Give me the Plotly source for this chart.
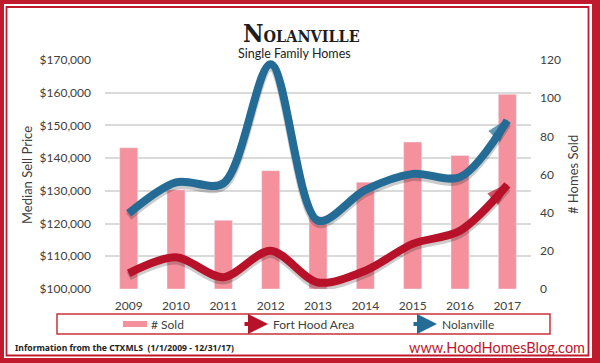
import plotly.graph_objects as go

# ---------------- data ----------------
years = ["2009", "2010", "2011", "2012", "2013", "2014", "2015", "2016", "2017"]
homes_sold = [74, 52, 36, 62, 38, 56, 77, 70, 102]
fort_hood_area = [104800, 109700, 103600, 111700, 102000, 105600, 113800, 117800, 131800]
nolanville = [123100, 132600, 132300, 168700, 120900, 130300, 135200, 134200, 151500]
price_ticks = [100000, 110000, 120000, 130000, 140000, 150000, 160000, 170000]
sold_ticks = [0, 20, 40, 60, 80, 100, 120]

# ---------------- layout geometry ----------------
W, H = 600, 363
L, R, T, B = 105, 69, 60, 74
PW, PH = W - L - R, H - T - B


def px(x):
    return (x - L) / PW


def py(y):
    return (H - B - y) / PH


RED = "#B8122A"
BLUE = "#246B95"
PINK = "#F4919D"
FRAME = "#C01A2C"
TXT = "#404040"
FONT = "Lato"

price_lo, price_hi = price_ticks[0], price_ticks[-1]
shadow_shift = 3 * (price_hi - price_lo) / PH  # 3 px drop shadow


def arrow_sizes(n, s):
    return [0] * (n - 1) + [s]


fig = go.Figure()

# bars (# sold) on right axis
fig.add_trace(go.Bar(
    x=years, y=homes_sold, name="# Sold", marker_color=PINK,
    width=0.38, xaxis="x", yaxis="y", showlegend=False,
))

# shadows
for vals in (fort_hood_area, nolanville):
    fig.add_trace(go.Scatter(
        x=years, y=vals, mode="lines+markers", xaxis="x", yaxis="y2",
        line=dict(color="rgba(0,0,0,0.20)", width=8.5, shape="spline", smoothing=0.9),
        marker=dict(symbol="arrow", size=arrow_sizes(len(vals), 20), angleref="previous",
                    color="rgba(0,0,0,0.20)", line=dict(width=0)),
        showlegend=False, hoverinfo="skip",
    ))

# lines
for vals, col, nm in ((fort_hood_area, RED, "Fort Hood Area"), (nolanville, BLUE, "Nolanville")):
    fig.add_trace(go.Scatter(
        x=years, y=vals, mode="lines+markers", name=nm, xaxis="x2", yaxis="y3",
        line=dict(color=col, width=8, shape="spline", smoothing=0.9),
        marker=dict(symbol="arrow", size=arrow_sizes(len(vals), 20), angleref="previous",
                    color=col, line=dict(width=2.5, color=col)),
        showlegend=False,
    ))

tickfont = dict(family=FONT, size=12, color=TXT)

fig.update_layout(
    width=W, height=H,
    margin=dict(l=L, r=R, t=T, b=B, autoexpand=False),
    paper_bgcolor="white", plot_bgcolor="rgba(0,0,0,0)",
    xaxis=dict(type="category", categoryarray=years, range=[-0.5, len(years) - 0.5],
               showgrid=False, zeroline=False, showline=False, ticks="",
               tickfont=tickfont, ticklabelstandoff=8),
    xaxis2=dict(type="category", categoryarray=years, range=[-0.5, len(years) - 0.5],
                overlaying="x", visible=False),
    yaxis=dict(side="right", range=[sold_ticks[0], sold_ticks[-1]], tickvals=sold_ticks,
               showgrid=False, zeroline=False, showline=False, ticks="",
               tickfont=tickfont, ticklabelstandoff=8),
    yaxis2=dict(overlaying="y", visible=False,
                range=[price_lo + shadow_shift, price_hi + shadow_shift]),
    yaxis3=dict(overlaying="y", side="left", anchor="x", range=[price_lo, price_hi],
                tickvals=price_ticks, tickformat="$,.0f",
                showgrid=True, gridcolor="#DADADA", gridwidth=1.5,
                zeroline=False, showline=False, ticks="",
                tickfont=tickfont, ticklabelstandoff=13),
)

shapes = []
# outer frame
for (x0, y0, x1, y1) in ((0, 0, 600, 4), (0, 0, 4, 363), (592, 0, 600, 363), (0, 358, 600, 363)):
    shapes.append(dict(type="rect", xref="paper", yref="paper", x0=px(x0), x1=px(x1),
                       y0=py(y1), y1=py(y0), fillcolor=FRAME, line=dict(width=0), layer="above"))
# inner thin frame
shapes.append(dict(type="rect", xref="paper", yref="paper", x0=px(6.5), x1=px(588.5),
                   y0=py(355.5), y1=py(7), line=dict(color=FRAME, width=1.8)))
# legend box
shapes.append(dict(type="rect", xref="paper", yref="paper", x0=px(57), x1=px(550),
                   y0=py(334), y1=py(314), line=dict(color="#C8323E", width=1.5)))
# legend pink swatch
shapes.append(dict(type="rect", xref="paper", yref="paper", x0=px(123), x1=px(147),
                   y0=py(327), y1=py(321), fillcolor=PINK, line=dict(width=0)))
fig.update_layout(shapes=shapes)

ann = []
# legend arrows
for tip, col in ((268, RED), (437, BLUE)):
    ann.append(dict(x=px(tip), y=py(324), xref="paper", yref="paper", text="",
                    showarrow=True, ax=-25, ay=0, arrowhead=2, arrowsize=1,
                    arrowwidth=4, arrowcolor=col))
lf = dict(family=FONT, size=12, color=TXT)
for x0, t in ((149, "# Sold"), (271, "Fort Hood Area"), (440, "Nolanville")):
    ann.append(dict(x=px(x0), y=py(324), xref="paper", yref="paper", text=t,
                    showarrow=False, xanchor="left", yanchor="middle", font=lf))
# axis titles
ann.append(dict(x=px(27), y=py(175), xref="paper", yref="paper", text="Median Sell Price",
                showarrow=False, textangle=-90, font=dict(family=FONT, size=13, color=TXT),
                xanchor="center", yanchor="middle"))
ann.append(dict(x=px(573), y=py(175), xref="paper", yref="paper", text="# Homes Sold",
                showarrow=False, textangle=-90, font=dict(family=FONT, size=13, color=TXT),
                xanchor="center", yanchor="middle"))
# title
ann.append(dict(x=px(301), y=py(33), xref="paper", yref="paper",
                text="<b><span style='font-size:25px'>N</span>OLANVILLE</b>",
                showarrow=False, xanchor="center", yanchor="middle",
                font=dict(family="DejaVu Serif Condensed", size=16, color="#1E1E1E")))
ann.append(dict(x=px(294), y=py(53), xref="paper", yref="paper", text="Single Family Homes",
                showarrow=False, xanchor="center", yanchor="middle",
                font=dict(family=FONT, size=12.5, color="#222222")))
# footer
ann.append(dict(x=px(13), y=py(348), xref="paper", yref="paper",
                text="<b>Information from the CTXMLS &nbsp;(1/1/2009 - 12/31/17)</b>",
                showarrow=False, xanchor="left", yanchor="middle",
                font=dict(family="Noto Sans", size=8.6, color="#222222")))
ann.append(dict(x=px(587), y=py(347), xref="paper", yref="paper",
                text="www.HoodHomesBlog.com",
                showarrow=False, xanchor="right", yanchor="middle",
                font=dict(family=FONT, size=14.5, color="#C0172D")))
fig.update_layout(annotations=ann)

fig.write_html("out.html", config={"displayModeBar": False},
               post_script="document.body.style.margin='0';document.body.style.overflow='hidden';")
